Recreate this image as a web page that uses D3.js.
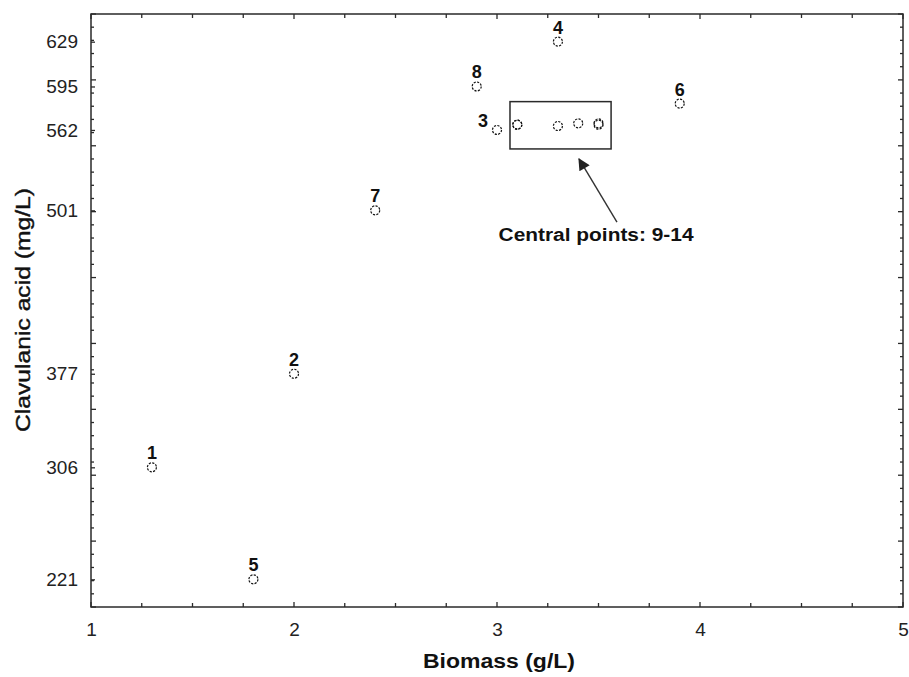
<!DOCTYPE html>
<html>
<head>
<meta charset="utf-8">
<script src="https://cdn.jsdelivr.net/npm/d3@7"></script>
<style>
  html, body { margin: 0; padding: 0; background: #fff; }
  svg { display: block; font-family: Arial, "Liberation Sans", sans-serif; }
</style>
</head>
<body>
<svg id="chart" width="909" height="677"></svg>
<script>
// ---- data ----
const pointIds    = ["1", "2", "3", "4", "5", "6", "7", "8"];
const biomass     = [1.3, 2.0, 3.0, 3.3, 1.8, 3.9, 2.4, 2.9];
const clavulanic  = [306, 377, 562, 629, 221, 582, 501, 595];
const centralBiomass    = [3.1, 3.1, 3.3, 3.4, 3.5, 3.5];
const centralClavulanic = [566, 566, 565, 567, 566, 567];
const xTickValues = [1, 2, 3, 4, 5];
const yTickValues = [221, 306, 377, 501, 562, 595, 629];
const xDomain = [1, 5];
const yDomain = [200, 650];
const annotationText = "Central points: 9-14";
const xTitle = "Biomass (g/L)";
const yTitle = "Clavulanic acid (mg/L)";

// ---- layout ----
const svg = d3.select("#chart");
const L = 91, T = 14, R = 903, B = 607;
const x = d3.scaleLinear().domain(xDomain).range([L, R]);
const y = d3.scaleLinear().domain(yDomain).range([B, T]);
const frameColor = "#2a2a2a";

// frame
svg.append("rect").attr("x", L).attr("y", T).attr("width", R - L).attr("height", B - T)
  .attr("fill", "none").attr("stroke", frameColor).attr("stroke-width", 1.5);

// minor/major ticks (inward) on all sides
const xMinor = d3.range(xDomain[0], xDomain[1] + 1e-9, 0.25);
const yMinor = d3.range(yDomain[0], yDomain[1] + 1e-9, 10);
const tickG = svg.append("g").attr("stroke", frameColor).attr("stroke-width", 1.3);
xMinor.forEach(v => {
  const len = Math.abs(v - Math.round(v)) < 1e-9 ? 5 : 4;
  tickG.append("line").attr("x1", x(v)).attr("x2", x(v)).attr("y1", B).attr("y2", B - len);
  tickG.append("line").attr("x1", x(v)).attr("x2", x(v)).attr("y1", T).attr("y2", T + len);
});
yMinor.forEach(v => {
  const len = v % 50 === 0 ? 5 : 3;
  tickG.append("line").attr("y1", y(v)).attr("y2", y(v)).attr("x1", L).attr("x2", L + len);
  tickG.append("line").attr("y1", y(v)).attr("y2", y(v)).attr("x1", R).attr("x2", R - len);
});

// axes labels via d3 axes
const xAxis = d3.axisBottom(x).tickValues(xTickValues).tickFormat(d3.format("d")).tickSize(0).tickPadding(16);
const gx = svg.append("g").attr("transform", `translate(0,${B})`).call(xAxis);
gx.select(".domain").remove();
gx.selectAll("text").attr("font-size", 19).attr("fill", "#222").attr("font-family", "Arial, 'Liberation Sans', sans-serif");

const yAxis = d3.axisLeft(y).tickValues(yTickValues).tickFormat(d3.format("d")).tickSize(4).tickPadding(9);
const gy = svg.append("g").attr("transform", `translate(${L},0)`).call(yAxis);
gy.select(".domain").remove();
gy.selectAll("line").attr("x2", 4).attr("stroke", frameColor).attr("stroke-width", 1.3);
gy.selectAll("text").attr("font-size", 19).attr("fill", "#222").attr("font-family", "Arial, 'Liberation Sans', sans-serif");

// axis titles
svg.append("text").attr("x", 499).attr("y", 668)
  .attr("text-anchor", "middle").attr("font-size", 20).attr("font-weight", "bold").attr("fill", "#111")
  .attr("textLength", 152).attr("lengthAdjust", "spacingAndGlyphs")
  .text(xTitle);
svg.append("text").attr("transform", `translate(30,310) rotate(-90)`)
  .attr("text-anchor", "middle").attr("font-size", 20).attr("font-weight", "normal").attr("fill", "#111")
  .attr("stroke", "#111").attr("stroke-width", 0.4)
  .attr("textLength", 244).attr("lengthAdjust", "spacingAndGlyphs")
  .text(yTitle);

// points
const pts = pointIds.map((id, i) => ({ id, bx: biomass[i], cy: clavulanic[i] }));
const central = centralBiomass.map((b, i) => ({ bx: b, cy: centralClavulanic[i] }));
const circleStyle = sel => sel.attr("r", 4.5).attr("fill", "none").attr("stroke", "#111")
  .attr("stroke-width", 1.2).attr("stroke-dasharray", "2.2,1.3");
svg.append("g").selectAll("circle").data(pts).join("circle")
  .attr("cx", d => x(d.bx)).attr("cy", d => y(d.cy)).call(circleStyle);
svg.append("g").selectAll("circle").data(central).join("circle")
  .attr("cx", d => x(d.bx)).attr("cy", d => y(d.cy)).call(circleStyle);

// point labels
svg.append("g").selectAll("text").data(pts).join("text")
  .attr("x", d => d.id === "3" ? x(d.bx) - 9 : x(d.bx))
  .attr("y", d => d.id === "3" ? y(d.cy) - 3 : y(d.cy) - 8)
  .attr("text-anchor", d => d.id === "3" ? "end" : "middle")
  .attr("font-size", 18).attr("font-weight", "bold").attr("fill", "#111")
  .text(d => d.id);

// central points box
const bx0 = d3.min(centralBiomass) - 0.036, bx1 = d3.max(centralBiomass) + 0.062;
const by0 = 547.6, by1 = 583.5;
svg.append("rect").attr("x", x(bx0)).attr("y", y(by1))
  .attr("width", x(bx1) - x(bx0)).attr("height", y(by0) - y(by1))
  .attr("fill", "none").attr("stroke", frameColor).attr("stroke-width", 1.5);

// arrow
const defs = svg.append("defs");
defs.append("marker").attr("id", "ah").attr("viewBox", "0 0 10 10").attr("refX", 9).attr("refY", 5)
  .attr("markerWidth", 14).attr("markerHeight", 12).attr("markerUnits", "userSpaceOnUse")
  .attr("orient", "auto")
  .append("path").attr("d", "M0,0 L10,5 L0,10 Z").attr("fill", "#222");
svg.append("line").attr("x1", x(3.591)).attr("y1", y(492)).attr("x2", x(3.404)).attr("y2", y(540))
  .attr("stroke", "#333").attr("stroke-width", 1.4).attr("marker-end", "url(#ah)");

svg.append("text").attr("x", x(3.488)).attr("y", y(477.5)).attr("text-anchor", "middle")
  .attr("font-size", 18).attr("font-weight", "bold").attr("fill", "#111")
  .attr("textLength", 195).attr("lengthAdjust", "spacingAndGlyphs")
  .text(annotationText);
</script>
</body>
</html>
